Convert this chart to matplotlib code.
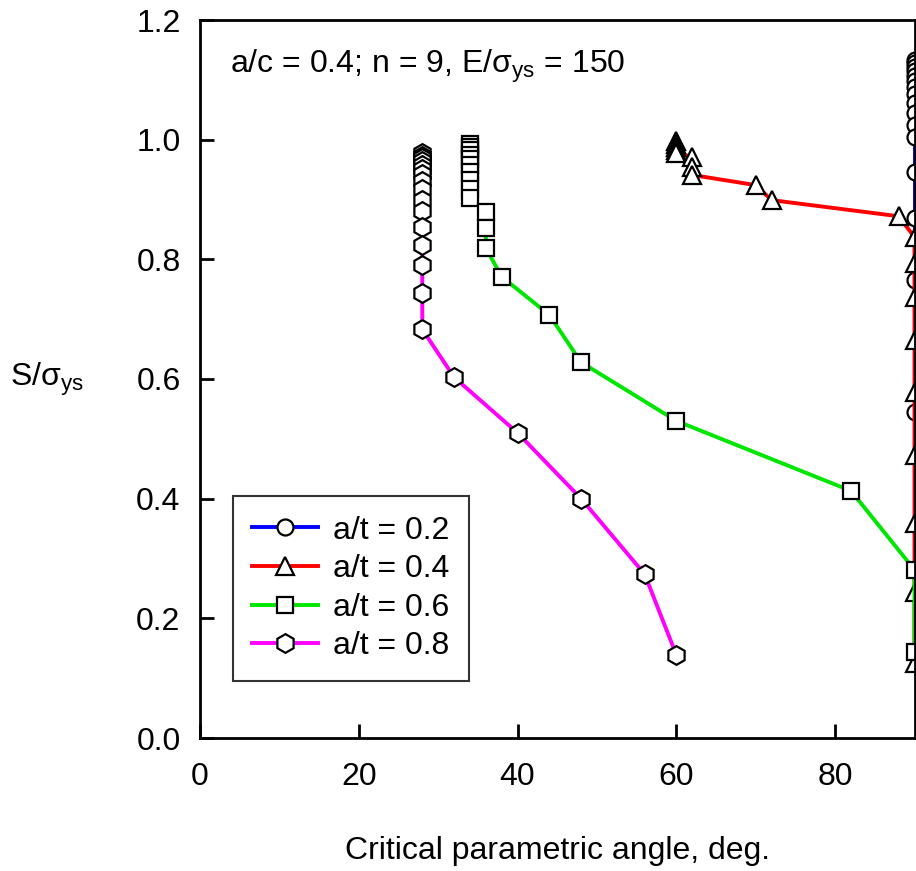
import numpy as np
import matplotlib
matplotlib.use("Agg")
import matplotlib.pyplot as plt

plt.rcParams['font.family'] = ['Liberation Sans', 'DejaVu Sans']
plt.rcParams['mathtext.fontset'] = 'custom'
plt.rcParams['mathtext.rm'] = 'Liberation Sans'
plt.rcParams['mathtext.it'] = 'Liberation Sans'

FS = 23

# a/t = 0.2 (circles)
x_02 = [90] * 18
y_02 = [1.133, 1.128, 1.122, 1.115, 1.107, 1.098, 1.088, 1.076, 1.062, 1.045,
        1.025, 1.005, 0.946, 0.869, 0.765, 0.545, 0.281, 0.144]

# a/t = 0.4 (triangles)
x_04 = [60, 60, 60, 60, 60, 62, 62, 62, 70, 72, 88, 90, 90, 90, 90, 90, 90, 90, 90, 90]
y_04 = [0.998, 0.993, 0.988, 0.983, 0.978, 0.971, 0.955, 0.941, 0.924, 0.899, 0.872,
        0.837, 0.794, 0.737, 0.665, 0.578, 0.473, 0.359, 0.244, 0.125]

# a/t = 0.6 (squares)
x_06 = [34] * 10 + [36, 36, 36, 38, 44, 48, 60, 82, 90, 90]
y_06 = [0.993, 0.988, 0.982, 0.975, 0.967, 0.957, 0.946, 0.933, 0.918, 0.902,
        0.879, 0.852, 0.819, 0.771, 0.707, 0.628, 0.530, 0.413, 0.281, 0.144]

# a/t = 0.8 (hexagons)
x_08 = [28] * 16 + [32, 40, 48, 56, 60]
y_08 = [0.977, 0.973, 0.969, 0.964, 0.958, 0.951, 0.942, 0.931, 0.917, 0.900,
        0.880, 0.854, 0.824, 0.790, 0.744, 0.683,
        0.603, 0.510, 0.400, 0.274, 0.139]

series = [
    (x_02, y_02, '#0000ff', 'o', 11.5, 'a/t = 0.2'),
    (x_04, y_04, '#ff0000', '^', 13, 'a/t = 0.4'),
    (x_06, y_06, '#00e600', 's', 12, 'a/t = 0.6'),
    (x_08, y_08, '#ff00ff', 'h', 13.5, 'a/t = 0.8'),
]

fig = plt.figure(figsize=(9.16, 8.71), dpi=100)
ax = fig.add_axes([200 / 916, 133 / 871, 714.5 / 916, 718 / 871])

for xs, ys, col, mk, ms, lab in series:
    ax.plot(xs, ys, color=col, lw=2.8, marker=mk, ms=ms, mfc='white',
            mec='black', mew=1.6, label=lab, clip_on=False)

ax.set_xlim(0, 90)
ax.set_ylim(0, 1.2)
ax.set_xticks([0, 20, 40, 60, 80])
ax.set_yticks(np.arange(0, 1.21, 0.2))
ax.set_yticklabels(['%.1f' % v for v in np.arange(0, 1.21, 0.2)])
ax.tick_params(direction='in', length=10, width=2, labelsize=FS)
ax.tick_params(axis='y', pad=14)
ax.tick_params(axis='x', pad=17)
for s in ax.spines.values():
    s.set_linewidth(2)

ax.set_xlabel('Critical parametric angle, deg.', fontsize=FS, labelpad=32)
fig.text(10 / 916, 1 - 379 / 871, r'S/$\mathrm{\sigma_{ys}}$', fontsize=FS,
         ha='left', va='center')

ax.text(0.042, 0.935, r'a/c = 0.4; n = 9, E/$\mathrm{\sigma_{ys}}$ = 150',
        transform=ax.transAxes, fontsize=FS, ha='left', va='center')

leg = ax.legend(loc='lower left', bbox_to_anchor=(0.046, 0.08), fontsize=FS,
                frameon=True, fancybox=False, edgecolor='black', handlelength=2.05,
                labelspacing=0.27, borderpad=0.6, handletextpad=0.5,
                borderaxespad=0)
leg.get_frame().set_linewidth(1.5)

fig.savefig('out.png', dpi=100)
